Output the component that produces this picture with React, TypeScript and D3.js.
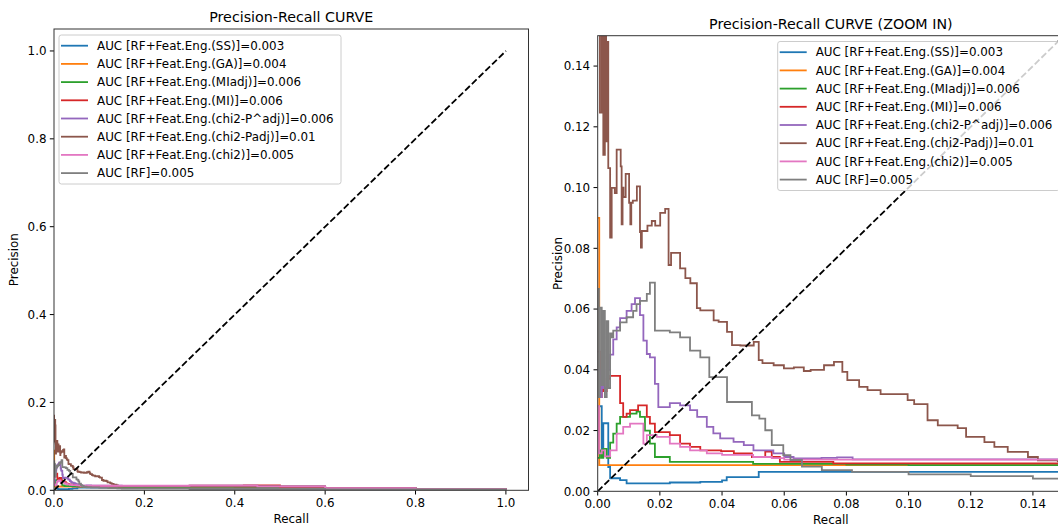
import React from 'react'
import * as d3 from 'd3'

// legend labels + tab10 colors, same order as the plot calls
const labels = [
  'AUC [RF+Feat.Eng.(SS)]=0.003',
  'AUC [RF+Feat.Eng.(GA)]=0.004',
  'AUC [RF+Feat.Eng.(MIadj)]=0.006',
  'AUC [RF+Feat.Eng.(MI)]=0.006',
  'AUC [RF+Feat.Eng.(chi2-P^adj)]=0.006',
  'AUC [RF+Feat.Eng.(chi2-Padj)]=0.01',
  'AUC [RF+Feat.Eng.(chi2)]=0.005',
  'AUC [RF]=0.005',
]
const colors = ['#1f77b4', '#ff7f0e', '#2ca02c', '#d62728', '#9467bd', '#8c564b', '#e377c2', '#7f7f7f']

// [recall, precision]
const ss = [[0, 0.028], [0.0013, 0.012], [0.0018, 0.0224], [0.0034, 0.008], [0.004, 0.0043], [0.0072, 0.0037], [0.0093, 0.0026], [0.0232, 0.0029], [0.033, 0.0031], [0.04, 0.0036], [0.0415, 0.0047], [0.0518, 0.0064], [0.15, 0.0064], [0.4, 0.006], [0.55, 0.004], [0.7, 0.002], [1.0, 0.001]]
const ga = [[0, 0.09], [0.0005, 0.0086], [0.45, 0.0086], [0.5, 0.006], [0.6, 0.003], [0.8, 0.002], [1.0, 0.001]]
const miAdj = [[0, 0.011], [0.0007, 0.0135], [0.0013, 0.011], [0.0018, 0.014], [0.0029, 0.011], [0.004, 0.016], [0.005, 0.019], [0.0061, 0.0223], [0.0072, 0.0245], [0.0104, 0.0256], [0.0125, 0.0262], [0.0136, 0.0245], [0.0152, 0.02], [0.0168, 0.0157], [0.0184, 0.0113], [0.0232, 0.0097], [0.04, 0.0097], [0.05, 0.009], [0.08, 0.0088], [0.1, 0.0086], [0.15, 0.0087], [0.3, 0.009], [0.45, 0.008], [0.6, 0.005], [0.8, 0.0025], [1.0, 0.001]]
const mi = [[0, 0.046], [0.0007, 0.031], [0.0013, 0.04], [0.0018, 0.033], [0.0029, 0.037], [0.004, 0.038], [0.0072, 0.029], [0.0082, 0.0245], [0.0093, 0.0256], [0.0104, 0.0267], [0.013, 0.0283], [0.0158, 0.0245], [0.0168, 0.0223], [0.0184, 0.0195], [0.0232, 0.0185], [0.0265, 0.0157], [0.0297, 0.0146], [0.033, 0.0135], [0.0397, 0.0132], [0.0438, 0.0125], [0.0496, 0.0113], [0.0539, 0.0131], [0.056, 0.0113], [0.0586, 0.0097], [0.0758, 0.0092], [0.15, 0.0095], [0.3, 0.0105], [0.42, 0.011], [0.5, 0.008], [0.6, 0.005], [0.8, 0.0025], [1.0, 0.001]]
const chi2PAdjHat = [[0, 0.04], [0.0007, 0.031], [0.0013, 0.038], [0.0018, 0.034], [0.0029, 0.04], [0.004, 0.045], [0.005, 0.05], [0.0061, 0.054], [0.0072, 0.057], [0.0093, 0.0594], [0.0109, 0.0616], [0.012, 0.0636], [0.0136, 0.058], [0.0147, 0.0496], [0.0158, 0.0452], [0.0168, 0.0441], [0.0184, 0.0354], [0.0195, 0.0277], [0.0232, 0.029], [0.0265, 0.0283], [0.0297, 0.0267], [0.032, 0.0245], [0.0351, 0.0212], [0.0372, 0.0191], [0.0394, 0.0174], [0.0437, 0.0163], [0.047, 0.0152], [0.0501, 0.0135], [0.0565, 0.0125], [0.06, 0.0113], [0.063, 0.0108], [0.072, 0.011], [0.077, 0.0112], [0.082, 0.0105], [0.15, 0.0102], [0.3, 0.0105], [0.45, 0.009], [0.6, 0.005], [0.8, 0.0025], [1.0, 0.001]]
const chi2PAdj = [[0, 0.17], [0.0002, 0.16], [0.0007, 0.1247], [0.0013, 0.16], [0.0018, 0.1108], [0.0023, 0.16], [0.0027, 0.1152], [0.003, 0.148], [0.0034, 0.1064], [0.004, 0.0835], [0.0045, 0.0999], [0.0055, 0.0982], [0.0061, 0.1125], [0.0074, 0.107], [0.0077, 0.0879], [0.008, 0.1], [0.0083, 0.0969], [0.009, 0.1045], [0.0101, 0.095], [0.0105, 0.0879], [0.0108, 0.095], [0.0113, 0.0957], [0.0126, 0.1004], [0.0136, 0.0853], [0.0139, 0.0802], [0.0142, 0.0857], [0.016, 0.0875], [0.0174, 0.089], [0.0185, 0.0875], [0.0201, 0.0917], [0.0217, 0.093], [0.0228, 0.0745], [0.0236, 0.0785], [0.0265, 0.0734], [0.0282, 0.0702], [0.0298, 0.0685], [0.0319, 0.0603], [0.033, 0.0596], [0.0373, 0.0563], [0.0389, 0.0558], [0.0416, 0.0525], [0.0432, 0.0481], [0.0459, 0.048], [0.0502, 0.0492], [0.0518, 0.0432], [0.053, 0.0422], [0.0566, 0.0415], [0.0599, 0.0405], [0.0631, 0.0408], [0.0663, 0.0396], [0.0685, 0.04], [0.0728, 0.0415], [0.076, 0.0426], [0.0787, 0.0393], [0.0803, 0.0366], [0.0841, 0.0344], [0.0868, 0.0333], [0.091, 0.032], [0.0997, 0.03], [0.1018, 0.0287], [0.1061, 0.0234], [0.1094, 0.0217], [0.1158, 0.0208], [0.1185, 0.0179], [0.1244, 0.0162], [0.1276, 0.0146], [0.1319, 0.013], [0.1384, 0.0113], [0.1416, 0.0102], [0.148, 0.0099], [0.2, 0.0095], [0.4, 0.009], [0.6, 0.005], [0.8, 0.0025], [1.0, 0.001]]
const chi2 = [[0, 0.028], [0.0004, 0.0125], [0.0013, 0.0135], [0.0023, 0.0115], [0.004, 0.0135], [0.0061, 0.019], [0.0082, 0.0212], [0.0104, 0.0223], [0.0136, 0.0223], [0.0147, 0.0157], [0.0158, 0.0185], [0.019, 0.0179], [0.0232, 0.0157], [0.0265, 0.0146], [0.0297, 0.0135], [0.0351, 0.0125], [0.04, 0.012], [0.05, 0.0113], [0.056, 0.0109], [0.06, 0.0104], [0.15, 0.0104], [0.3, 0.0108], [0.45, 0.009], [0.6, 0.005], [0.8, 0.0025], [1.0, 0.001]]
const rf = [[0, 0.0666], [0.0004, 0.031], [0.0007, 0.0605], [0.0013, 0.035], [0.0018, 0.0594], [0.0023, 0.031], [0.0029, 0.056], [0.0034, 0.034], [0.004, 0.052], [0.0045, 0.0507], [0.005, 0.0529], [0.0072, 0.0556], [0.0093, 0.0573], [0.0114, 0.0594], [0.0125, 0.0616], [0.0136, 0.0627], [0.0158, 0.065], [0.0168, 0.0687], [0.0184, 0.0529], [0.0232, 0.0523], [0.0265, 0.0507], [0.0297, 0.0463], [0.033, 0.0441], [0.0359, 0.0376], [0.0416, 0.0294], [0.0496, 0.025], [0.052, 0.0239], [0.0539, 0.0201], [0.056, 0.0152], [0.0597, 0.0119], [0.062, 0.0103], [0.0657, 0.0081], [0.0721, 0.007], [0.0818, 0.0064], [0.1, 0.0056], [0.12, 0.005], [0.14, 0.0042], [0.15, 0.004], [0.3, 0.003], [0.6, 0.002], [1.0, 0.001]]

const series = [ss, ga, miAdj, mi, chi2PAdjHat, chi2PAdj, chi2, rf]

const fullTicks = [0, 0.2, 0.4, 0.6, 0.8, 1.0]
const zoomTicks = [0, 0.02, 0.04, 0.06, 0.08, 0.1, 0.12, 0.14]

const FONT = "'DejaVu Sans', 'Bitstream Vera Sans', sans-serif"
const FS = 11.9

function Panel({ id, title, xDomain, yDomain, left, right, top, bottom, ticks, fmt, legendX, legendY }) {
  const x = d3.scaleLinear().domain(xDomain).range([left, right])
  const y = d3.scaleLinear().domain(yDomain).range([bottom, top])
  const line = d3.line().x(d => x(d[0])).y(d => y(d[1])).curve(d3.curveStepAfter)
  const f = d3.format(fmt)
  const cx = (left + right) / 2

  return (
    <g style={{ fontFamily: FONT }} fontSize={FS} fill="#000">
      <defs>
        <clipPath id={id}>
          <rect x={left} y={top} width={right - left} height={bottom - top} />
        </clipPath>
      </defs>
      <g clipPath={`url(#${id})`}>
        {series.map((s, i) => (
          <path key={i} d={line(s)} fill="none" stroke={colors[i]} strokeWidth={1.8} />
        ))}
        <line x1={x(0)} y1={y(0)} x2={x(1)} y2={y(1)} stroke="#000" strokeWidth={1.8} strokeDasharray="6.6,2.8" />
      </g>

      {/* axes */}
      {ticks.map(t => (
        <g key={'x' + t}>
          <line x1={x(t)} x2={x(t)} y1={bottom} y2={bottom + 4.2} stroke="#000" strokeWidth={1} />
          <text x={x(t)} y={bottom + 17} textAnchor="middle">{f(t)}</text>
        </g>
      ))}
      {ticks.map(t => (
        <g key={'y' + t}>
          <line x1={left - 4.2} x2={left} y1={y(t)} y2={y(t)} stroke="#000" strokeWidth={1} />
          <text x={left - 7.5} y={y(t)} dy="0.36em" textAnchor="end">{f(t)}</text>
        </g>
      ))}
      <rect x={left} y={top} width={right - left} height={bottom - top} fill="none" stroke="#333" strokeWidth={1} />

      <text x={cx} y={bottom + 33} textAnchor="middle">Recall</text>
      <text transform={`translate(${left - 36},${(top + bottom) / 2}) rotate(-90)`} textAnchor="middle">Precision</text>
      <text x={cx} y={top - 7} textAnchor="middle" fontSize={14.25}>{title}</text>

      {/* legend */}
      <g transform={`translate(${legendX},${legendY})`}>
        <rect x={0} y={0} width={282} height={149} rx={2.4} fill="#fff" fillOpacity={0.8} stroke="#ccc" strokeWidth={1} />
        {labels.map((l, i) => (
          <g key={l} transform={`translate(0,${10.7 + i * 18.2})`}>
            <line x1={2} x2={29} y1={0} y2={0} stroke={colors[i]} strokeWidth={1.8} />
            <text x={38} y={0} dy="0.36em">{l}</text>
          </g>
        ))}
      </g>
    </g>
  )
}

export default function App() {
  return (
    <svg width={1058} height={527} style={{ position: 'absolute', left: 0, top: 0, background: '#fff' }}>
      <rect width={1058} height={527} fill="#fff" />
      <Panel id="clipFull" title="Precision-Recall CURVE" xDomain={[0, 1.05]} yDomain={[0, 1.05]}
        left={54} right={528.5} top={29} bottom={490.3} ticks={fullTicks} fmt=".1f" legendX={59} legendY={35} />
      <Panel id="clipZoom" title="Precision-Recall CURVE (ZOOM IN)" xDomain={[0, 0.15]} yDomain={[0, 0.15]}
        left={597.7} right={1064} top={35.7} bottom={491.3} ticks={zoomTicks} fmt=".2f" legendX={777.7} legendY={41.5} />
    </svg>
  )
}
